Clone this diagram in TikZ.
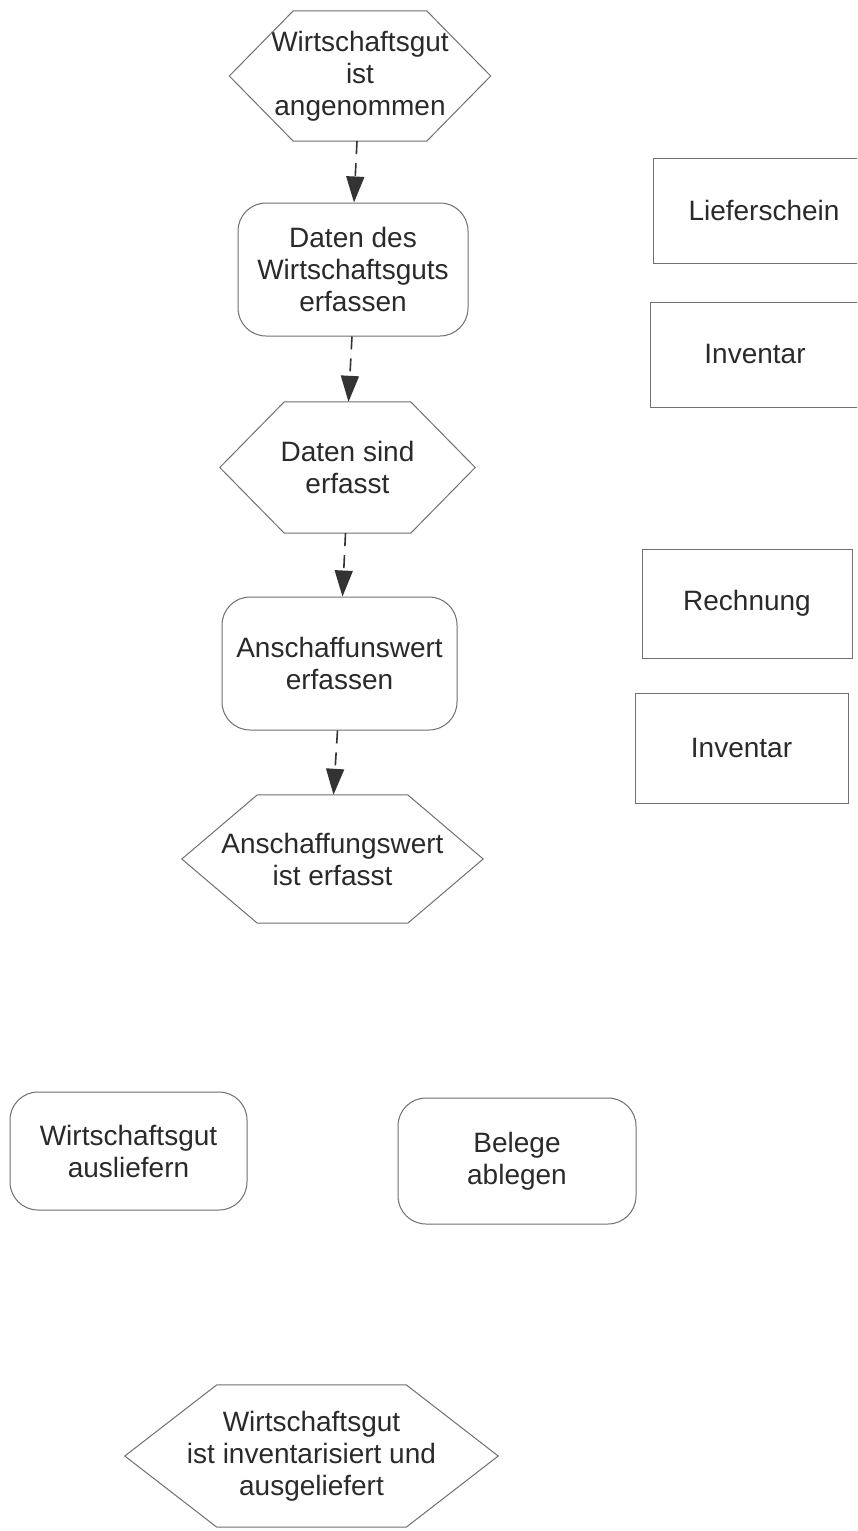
\documentclass[tikz,border=0pt]{standalone}
\usepackage{fontspec}
\setmainfont{Liberation Sans}
\usetikzlibrary{arrows.meta}
\definecolor{ln}{HTML}{707070}
\definecolor{tx}{HTML}{2A2A2A}
\definecolor{ar}{HTML}{333333}
\newcommand\hexa[2]{\draw[hexl] (#1.west) -- ([xshift=#2]#1.north west) -- ([xshift=-#2]#1.north east) -- (#1.east) -- ([xshift=-#2]#1.south east) -- ([xshift=#2]#1.south west) -- cycle;}
\begin{document}
\begin{tikzpicture}[x=1pt,y=-1pt,
  every node/.style={font=\fontsize{28}{32}\selectfont, text=tx, align=center, inner sep=0pt},
  proc/.style={draw=ln, line width=1pt, rounded corners=28pt},
  docbox/.style={draw=ln, line width=1pt},
  hexl/.style={draw=ln, line width=1pt},
  flow/.style={draw=ar, line width=1.6pt, dash pattern=on 13pt off 9pt, -{Triangle[length=26pt,width=18pt]}}]
\clip (0,0) rectangle (857,1531);
\fill[white] (0,0) rectangle (857,1531);

% event hexagons (node = full extent, outline drawn by \hexa)
\node[minimum width=261pt, minimum height=130pt] (h1) at (360,76) {Wirtschaftsgut\\ist\\angenommen};
\hexa{h1}{64pt}
\node[minimum width=255pt, minimum height=131pt] (h2) at (347.5,467.5) {Daten sind\\erfasst};
\hexa{h2}{64.5pt}
\node[minimum width=301pt, minimum height=128pt] (h3) at (332.5,859) {Anschaffungswert\\ist erfasst};
\hexa{h3}{75.5pt}
\node[minimum width=373pt, minimum height=142pt] (h4) at (311.5,1456) {Wirtschaftsgut\\ist inventarisiert und\\ausgeliefert};
\hexa{h4}{92pt}

% functions
\node[proc, minimum width=230pt, minimum height=133pt] (r1) at (353,269.5) {Daten des\\Wirtschaftsguts\\erfassen};
\node[proc, minimum width=235pt, minimum height=133pt] (r2) at (339.5,663.5) {Anschaffunswert\\erfassen};
\node[proc, minimum width=237pt, minimum height=118pt] (r3) at (128.5,1151) {Wirtschaftsgut\\ausliefern};
\node[proc, minimum width=238pt, minimum height=126pt] (r4) at (517,1161) {Belege\\ablegen};

% documents
\node[docbox, minimum width=222pt, minimum height=105pt] (d1) at (764,210.5) {Lieferschein};
\node[docbox, minimum width=210pt, minimum height=105pt] (d2) at (755,354.5) {Inventar};
\node[docbox, minimum width=210pt, minimum height=109pt] (d3) at (747,603.5) {Rechnung};
\node[docbox, minimum width=213pt, minimum height=110pt] (d4) at (741.5,748) {Inventar};

% control flow
\draw[flow] ([xshift=-3pt]h1.south) -- ([xshift=1pt]r1.north);
\draw[flow] ([xshift=-1pt]r1.south) -- ([xshift=1pt]h2.north);
\draw[flow] ([xshift=-2pt]h2.south) -- ([xshift=3pt]r2.north);
\draw[flow] ([xshift=-2pt]r2.south) -- ([xshift=1pt]h3.north);
\end{tikzpicture}
\end{document}
